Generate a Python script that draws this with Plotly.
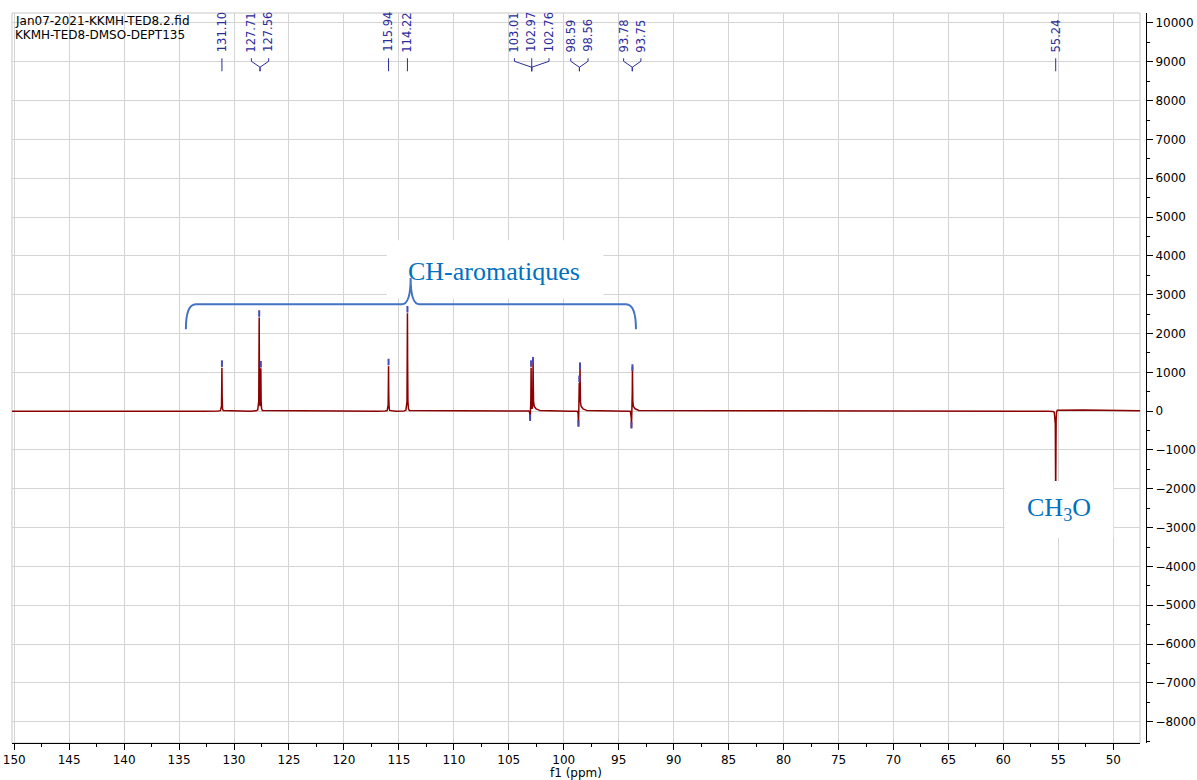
import numpy as np
import plotly.graph_objects as go

# ---------------- data ----------------
title_lines = ["Jan07-2021-KKMH-TED8.2.fid", "KKMH-TED8-DMSO-DEPT135"]

# picked peak labels (ppm), grouped as they are drawn on top of the spectrum
label_groups = [[131.10], [127.71, 127.56], [115.94], [114.22],
                [103.01, 102.97, 102.76], [98.59, 98.56], [93.78, 93.75], [55.24]]

# spectrum lines: position (ppm), signed intensity, tail after the line
comp_ppm = [131.10, 127.71, 127.56, 115.94, 114.22, 103.06, 102.97, 102.79,
            98.66, 98.59, 98.52, 93.84, 93.75, 55.24]
comp_height = [1120, 2400, 1080, 1160, 2520, -280, 1120, 1200,
               -440, 700, 1040, -470, 1030, -2400]
comp_tail = [0, 0, 0, 0, 0, 0, 0, 140, 0, 0, 140, 0, 130, 50]
comp_decay = [1, 1, 1, 1, 1, 1, 1, 0.3, 1, 1, 0.3, 1, 0.3, 5]
peak_marked = [1, 1, 1, 1, 1, 1, 1, 1, 1, 1, 1, 1, 1, 0]

group_text = ["CH-aromatiques", "CH<sub>3</sub>O"]

# ---------------- layout constants ----------------
W, H = 1197, 780
# pixel positions of the plot box
P_LEFT, P_YAXIS, P_TOP, P_BOTTOM = 12, 1146, 12.7, 743.3
ML = P_LEFT
MT = P_TOP
MR = W - P_YAXIS
MB = H - P_BOTTOM
plot_w = W - ML - MR
plot_h = H - MT - MB
xdom1 = (1140 - P_LEFT) / plot_w
x_range = [150.2, 47.57]
y_range = [-8548, 10257]
ppm_per_px = (x_range[0] - x_range[1]) / (plot_w * xdom1)


def ypaper(pix):
    """pixel row -> paper fraction"""
    return (P_BOTTOM - pix) / plot_h


def xpaper(pix):
    return (pix - P_LEFT) / plot_w


HW = 0.015
x = np.arange(x_range[1], x_range[0], 0.004)
x = np.unique(np.concatenate([x, np.array(comp_ppm)]))


def model(xx):
    yy = np.zeros_like(xx, dtype=float)
    for p, h, t, d in zip(comp_ppm, comp_height, comp_tail, comp_decay):
        yy += h / (1 + ((xx - p) / HW) ** 2)
        if t:
            yy += np.where(xx < p, t * np.exp(-(p - xx) / d), 0.0)
    return yy


y = model(x)

fig = go.Figure()
fig.add_trace(go.Scatter(x=x, y=y, mode="lines",
                         line=dict(color="#8b0000", width=1.5),
                         hoverinfo="skip", showlegend=False))

# peak-pick markers
mx, my = [], []
vals = model(np.array(comp_ppm, dtype=float))
for p, v, m in zip(comp_ppm, vals, peak_marked):
    if not m:
        continue
    if v > 0:
        mx += [p, p, None]
        my += [v + 20, v + 190, None]
    else:
        mx += [p, p, None]
        my += [v, v + 160, None]
fig.add_trace(go.Scatter(x=mx, y=my, mode="lines",
                         line=dict(color="#4a4ab4", width=2),
                         hoverinfo="skip", showlegend=False))

shapes = []
annotations = []

# plot frame
shapes.append(dict(type="rect", xref="x domain", yref="y domain", x0=0, x1=1, y0=0, y1=1,
                   line=dict(color="#c8c8c8", width=1), layer="below"))

# peak labels and connectors
lab_color = "#2b2b9b"
spacing = 17.3 * ppm_per_px
for grp in label_groups:
    n = len(grp)
    c = float(np.mean(grp))
    for i, v in enumerate(grp):
        lx = c + ((n - 1) / 2 - i) * spacing
        annotations.append(dict(x=lx, y=ypaper(54), xref="x", yref="paper",
                                text=f"{v:.2f}", textangle=-90, showarrow=False,
                                xanchor="center", yanchor="bottom",
                                font=dict(family="DejaVu Sans", size=11.5, color=lab_color)))
        if n == 1:
            shapes.append(dict(type="line", xref="x", yref="paper", x0=v, x1=v,
                               y0=ypaper(58), y1=ypaper(71),
                               line=dict(color=lab_color, width=1)))
        else:
            pts = [(lx, 58), (lx, 61), (c, 67), (c, 71)]
            for (ax, ay), (bx, by) in zip(pts[:-1], pts[1:]):
                shapes.append(dict(type="line", xref="x", yref="paper", x0=ax, x1=bx,
                                   y0=ypaper(ay), y1=ypaper(by),
                                   line=dict(color=lab_color, width=1)))

# title lines
for i, t in enumerate(title_lines):
    annotations.append(dict(x=xpaper(13), y=ypaper(20.7 + 14.3 * i), xref="paper", yref="paper",
                            text=t, showarrow=False, xanchor="left", yanchor="middle",
                            font=dict(family="DejaVu Sans", size=12, color="black")))

# white boxes behind group labels
shapes.append(dict(type="rect", xref="x", yref="y", x0=116.1, x1=96.4, y0=2900, y1=4400,
                   fillcolor="white", line=dict(width=0), layer="above"))
shapes.append(dict(type="rect", xref="x", yref="y", x0=59.9, x1=50.0, y0=-3270, y1=-1800,
                   fillcolor="white", line=dict(width=0), layer="above"))

# curly brace
L, R, C = 134.38, 93.43, 113.93
yb, ye, yc = 2754, 2110, 3431
path = (f"M {L},{ye} Q {L},{yb} {L - 0.9},{yb} L {C + 0.8},{yb} "
        f"Q {C},{yb} {C},{yc} Q {C},{yb} {C - 0.8},{yb} "
        f"L {R + 0.9},{yb} Q {R},{yb} {R},{ye}")
shapes.append(dict(type="path", xref="x", yref="y", path=path,
                   line=dict(color="#4472c4", width=2), layer="above"))

annotations.append(dict(x=106.35, y=3600, xref="x", yref="y", text=group_text[0],
                        showarrow=False, xanchor="center", yanchor="middle",
                        font=dict(family="Liberation Serif", size=26, color="#0070c0")))
annotations.append(dict(x=54.97, y=-2520, xref="x", yref="y", text=group_text[1],
                        showarrow=False, xanchor="center", yanchor="middle",
                        font=dict(family="Liberation Serif", size=26, color="#0070c0")))

tickfont = dict(family="DejaVu Sans", size=12, color="black")
fig.update_layout(
    width=W, height=H,
    margin=dict(l=ML, r=MR, t=MT, b=MB, pad=0),
    paper_bgcolor="white", plot_bgcolor="white",
    showlegend=False,
    shapes=shapes, annotations=annotations,
    xaxis=dict(range=x_range, domain=[0, xdom1], dtick=5, tick0=0,
               ticks="outside", ticklen=6, tickcolor="black",
               showline=True, linecolor="black", linewidth=1,
               showgrid=True, gridcolor="#d4d4d4", gridwidth=1, zeroline=False,
               tickfont=tickfont, automargin=False,
               minor=dict(dtick=2.5, ticks="outside", ticklen=3, tickcolor="black", showgrid=False),
               title=dict(text="f1 (ppm)", font=tickfont, standoff=2)),
    yaxis=dict(range=y_range, side="right", anchor="free", position=1,
               dtick=1000, tick0=0, ticks="outside", ticklen=6, tickcolor="black",
               showline=True, linecolor="black", linewidth=1,
               showgrid=True, gridcolor="#d4d4d4", gridwidth=1, zeroline=False,
               tickfont=tickfont, tickformat="d", automargin=False,
               minor=dict(dtick=500, ticks="outside", ticklen=3, tickcolor="black", showgrid=False)),
)

fig.write_html("out.html",
               config={"displayModeBar": False},
               post_script="document.body.style.margin='0px';document.body.style.overflow='hidden';")
